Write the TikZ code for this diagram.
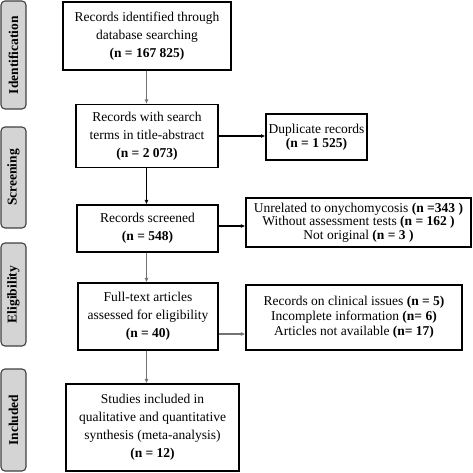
\documentclass[tikz,border=0pt]{standalone}
\usepackage{fontspec}
\setmainfont{Liberation Serif}
\usetikzlibrary{arrows.meta}

\begin{document}
\begin{tikzpicture}[x=1pt,y=-1pt,
  box/.style={draw,line width=1.1pt,align=center,inner sep=0pt,font=\fontsize{13.5}{18}\selectfont},
  tight/.style={font=\fontsize{13.5}{13.5}\selectfont},
  stage/.style={draw=black!75,line width=1.1pt,fill=black!17,rounded corners=4pt,minimum width=25pt,inner sep=0pt,
    font=\fontsize{13.5}{15}\selectfont\bfseries},
  flow/.style={-{Latex[length=4.5pt,width=4pt]},line width=1.1pt},
  grayflow/.style={flow,draw=black!55}]
  \useasboundingbox (0,0) rectangle (473,472);
  % stages
  \node[stage,minimum height=108pt] (ident) at (13.5,55) {\rotatebox{90}{Identification}};
  \node[stage,minimum height=101pt] (screen) at (13.5,177.5) {\rotatebox{90}{Screening}};
  \node[stage,minimum height=103pt] (elig) at (13.5,294.5) {\rotatebox{90}{Eligibility}};
  \node[stage,minimum height=102pt] (incl) at (13.5,420) {\rotatebox{90}{Included}};
  % main column
  \node[box,minimum width=168pt,minimum height=68pt] (found) at (147,36)
    {Records identified through\\database searching\\\textbf{(n = 167 825)}};
  \node[box,minimum width=142pt,minimum height=63pt] (search) at (147,136)
    {Records with search\\terms in title-abstract\\\textbf{(n = 2 073)}};
  \node[box,minimum width=141pt,minimum height=47pt] (screened) at (147.5,228.5)
    {Records screened\\\textbf{(n = 548)}};
  \node[box,minimum width=140pt,minimum height=67pt] (fulltext) at (148,316.5)
    {Full-text articles\\assessed for eligibility\\\textbf{(n = 40)}};
  \node[box,minimum width=173pt,minimum height=87pt] (included) at (152.5,427.5)
    {Studies included in\\qualitative and quantitative\\synthesis (meta-analysis)\\\textbf{(n = 12)}};
  % exclusions
  \node[box,tight,minimum width=101pt,minimum height=46pt] (dupl) at (316.5,137)
    {Duplicate records\\\textbf{(n = 1 525)}};
  \node[box,tight,minimum width=225pt,minimum height=49pt] (unrel) at (358.5,222.5)
    {Unrelated to onychomycosis \textbf{(n =343 )}\\Without assessment tests \textbf{(n = 162 )}\\Not original \textbf{(n = 3 )}};
  \node[box,font=\fontsize{13.5}{15}\selectfont,minimum width=216pt,minimum height=65pt] (notav) at (354,317.5)
    {Records on clinical issues \textbf{(n = 5)}\\Incomplete information \textbf{(n= 6)}\\Articles not available \textbf{(n= 17)}};
  % arrows
  \draw[grayflow] ([xshift=-0.5pt]found.south) -- ([xshift=-0.5pt]found.south |- search.north);
  \draw[flow] ([xshift=-0.5pt]search.south) -- ([xshift=-0.5pt]search.south |- screened.north);
  \draw[grayflow] ([xshift=-1pt]screened.south) -- ([xshift=-1pt]screened.south |- fulltext.north);
  \draw[grayflow] ([xshift=-1.5pt]fulltext.south) -- ([xshift=-1.5pt]fulltext.south |- included.north);
  \draw[flow] (search.east) -- (search.east -| dupl.west);
  \draw[flow] ([yshift=2.5pt]screened.east) -- ([yshift=2.5pt]screened.east -| unrel.west);
  \draw[grayflow] ([yshift=-17.5pt]fulltext.east) -- ([yshift=-17.5pt]fulltext.east -| notav.west);
\end{tikzpicture}
\end{document}
